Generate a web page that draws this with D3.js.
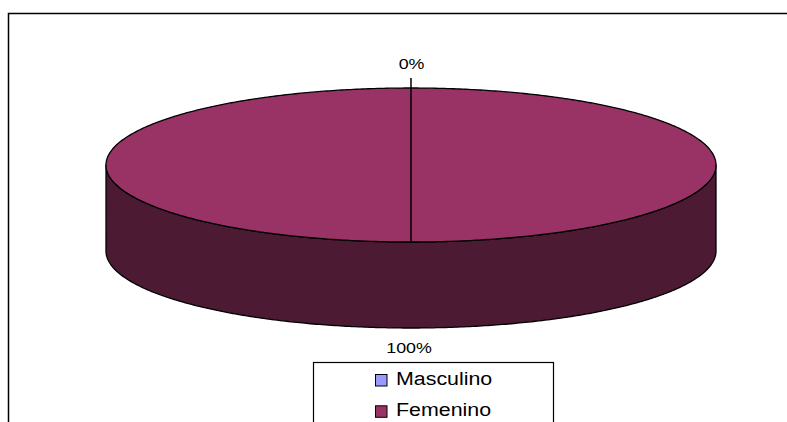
<!DOCTYPE html>
<html>
<head>
<meta charset="utf-8">
<script src="https://cdn.jsdelivr.net/npm/d3@7"></script>
<style>
  html, body { margin: 0; padding: 0; background: #fff; }
  svg { display: block; }
  text { font-family: "Liberation Sans", Arial, sans-serif; fill: #000; }
</style>
</head>
<body>
<svg id="chart" width="787" height="422"></svg>
<script>
// ---- data ----
const categories = ["Masculino", "Femenino"];
const values = [0, 100];
const percentLabels = ["0%", "100%"];
const topColors = ["#9999FF", "#993366"];
const sideColors = ["#4D4D80", "#4C1B33"];

// ---- layout ----
const cx = 411, cy = 165, rx = 305, ry = 77, depth = 86;
const stretch = 1.15; // horizontal stretch of the text in the reference

const svg = d3.select("#chart");

// outer chart frame (extends beyond the image on right and bottom)
svg.append("rect")
  .attr("x", 8.5).attr("y", 13.5)
  .attr("width", 800).attr("height", 450)
  .attr("fill", "#fff").attr("stroke", "#000").attr("stroke-width", 1.5);

const pie = d3.pie().sort(null).value(d => d)(values);

// projection of angle (0 = back/top, clockwise) on the ellipse
const px = (a, r = 1) => cx + rx * r * Math.sin(a);
const py = (a, r = 1, dz = 0) => cy - ry * r * Math.cos(a) + dz;

function arcPoints(a0, a1, dz) {
  const n = Math.max(2, Math.ceil(Math.abs(a1 - a0) / 0.01));
  return d3.range(n + 1).map(i => {
    const a = a0 + (a1 - a0) * i / n;
    return [px(a), py(a, 1, dz)];
  });
}

const line = d3.line();
const g = svg.append("g");

// side walls (front-facing portion only)
pie.forEach((s, i) => {
  if (s.endAngle - s.startAngle <= 0) return;
  const a0 = Math.max(s.startAngle, Math.PI / 2);
  const a1 = Math.min(s.endAngle, 3 * Math.PI / 2);
  if (a1 <= a0) return;
  const pts = arcPoints(a0, a1, 0).concat(arcPoints(a1, a0, depth));
  g.append("path")
    .attr("d", line(pts) + "Z")
    .attr("fill", sideColors[i])
    .attr("stroke", "#000").attr("stroke-width", 1.3)
    .attr("stroke-linejoin", "round");
});

// top faces
pie.forEach((s, i) => {
  if (s.endAngle - s.startAngle <= 0) return;
  const full = (s.endAngle - s.startAngle) >= 2 * Math.PI - 1e-9;
  let pts = arcPoints(s.startAngle, s.endAngle, 0);
  if (!full) pts = [[cx, cy]].concat(pts);
  g.append("path")
    .attr("d", line(pts) + "Z")
    .attr("fill", topColors[i])
    .attr("stroke", "#000").attr("stroke-width", 1.3)
    .attr("stroke-linejoin", "round");
});

// slice boundary / leader line at angle 0 (the 0% slice), through to front
const a0 = pie[0].startAngle;
g.append("line")
  .attr("x1", px(a0)).attr("y1", py(a0) - 10)
  .attr("x2", px(a0 + Math.PI)).attr("y2", py(a0 + Math.PI))
  .attr("stroke", "#000").attr("stroke-width", 1.5);

function stretchedText(parent, x, y, size, anchor, txt) {
  return parent.append("text")
    .attr("transform", `translate(${x},${y}) scale(${stretch},1)`)
    .attr("text-anchor", anchor).attr("font-size", size)
    .text(txt);
}

// percentage labels
stretchedText(svg, px(a0) + 0.5, 69, 15.5, "middle", percentLabels[0]);
const mid1 = pie[1].startAngle + (pie[1].endAngle - pie[1].startAngle) / 2;
stretchedText(svg, px(mid1) - 2, 352.5, 15.5, "middle", percentLabels[1]);

// legend
const leg = svg.append("g");
leg.append("rect")
  .attr("x", 313.5).attr("y", 362.5)
  .attr("width", 240).attr("height", 80)
  .attr("fill", "#fff").attr("stroke", "#000").attr("stroke-width", 1.2);

categories.forEach((c, i) => {
  const y = 374 + i * 31.3;
  leg.append("rect")
    .attr("x", 375.5).attr("y", y + 0.5)
    .attr("width", 11.5).attr("height", 11.5)
    .attr("fill", topColors[i]).attr("stroke", "#000").attr("stroke-width", 1);
  stretchedText(leg, 396, y + 10.5, 18.6, "start", c);
});
</script>
</body>
</html>
